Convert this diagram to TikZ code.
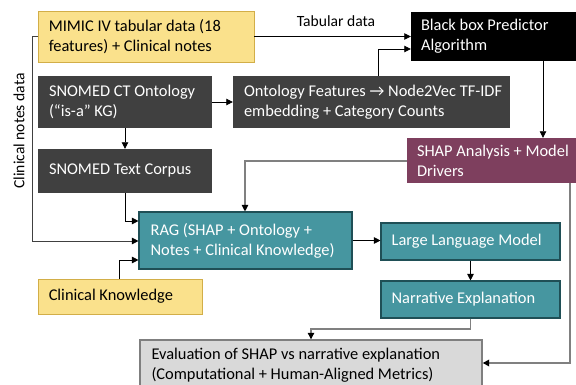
\documentclass[tikz,border=0pt]{standalone}
\usepackage{fontspec}
\setmainfont{Carlito}
\usetikzlibrary{arrows.meta,calc}
\definecolor{ylwf}{HTML}{FAE18C}
\definecolor{ylwb}{HTML}{D2AE48}
\definecolor{dgray}{HTML}{404040}
\definecolor{maroonf}{HTML}{7E3F5E}
\definecolor{tealf}{HTML}{4696A0}
\definecolor{tealb}{HTML}{1F4F56}
\definecolor{evalf}{HTML}{D9D9D9}
\definecolor{evalb}{HTML}{7F7F7F}
\definecolor{lineg}{HTML}{808080}
\begin{document}
\begin{tikzpicture}[x=1pt,y=-1pt,
  box/.style={rectangle, inner sep=0pt},
  ybox/.style={box, fill=ylwf, draw=ylwb, line width=0.9pt},
  dbox/.style={box, fill=dgray, draw=none},
  kbox/.style={box, fill=black, draw=none},
  mbox/.style={box, fill=maroonf, draw=none},
  tbox/.style={box, fill=tealf, draw=tealb, line width=1.1pt},
  gbox/.style={box, fill=evalf, draw=evalb, line width=1.4pt},
  txt/.style={anchor=west, inner sep=0pt, align=left,
    font=\fontsize{16.4}{20}\selectfont},
  wtxt/.style={txt, text=white},
  btxt/.style={txt, text=black},
  lbl/.style={inner sep=0pt, font=\fontsize{15.6}{18}\selectfont},
  tip/.style={-{Triangle[length=6.5pt,width=6.5pt,black]}},
  arr/.style={tip, draw=black, line width=0.8pt},
  garr/.style={tip, draw=lineg, line width=1.1pt}
]
\useasboundingbox (0,0) rectangle (576,385);
\clip (0,0) rectangle (576,385);

% boxes
\node[ybox, minimum width=216pt, minimum height=51pt] (mimic) at (146,36.5) {};
\node[kbox, minimum width=169pt, minimum height=49pt] (black) at (495.5,36.5) {};
\node[dbox, minimum width=174pt, minimum height=52pt] (snomed) at (125,102) {};
\node[dbox, minimum width=277pt, minimum height=52pt] (onto) at (371.5,102) {};
\node[mbox, minimum width=173pt, minimum height=45pt] (shap) at (493.5,160.5) {};
\node[dbox, minimum width=174pt, minimum height=44pt] (corpus) at (125,171) {};
\node[tbox, minimum width=213pt, minimum height=57pt] (rag) at (245.5,240.5) {};
\node[tbox, minimum width=179pt, minimum height=37pt] (llm) at (470.5,241.5) {};
\node[tbox, minimum width=179pt, minimum height=37pt] (narr) at (470.5,299.5) {};
\node[ybox, minimum width=164pt, minimum height=35pt] (ck) at (120,296.5) {};
\node[gbox, minimum width=342pt, minimum height=50pt] (eval) at (311,365) {};

% box texts
\node[btxt] (mimict) at ($(mimic.west)+(11,0)$) {MIMIC IV tabular data (18\\features) + Clinical notes};
\node[wtxt] (blackt) at ($(black.west)+(10,0)$) {Black box Predictor\\Algorithm};
\node[wtxt] (snomedt) at ($(snomed.west)+(11,0)$) {SNOMED CT Ontology\\(“is-a” KG)};
\node[wtxt] (ontot) at ($(onto.west)+(11,0)$) {Ontology Features → Node2Vec TF-IDF\\embedding + Category Counts};
\node[wtxt] (shapt) at ($(shap.west)+(10,0)$) {SHAP Analysis + Model\\Drivers};
\node[wtxt] (corpust) at ($(corpus.west)+(11,0)$) {SNOMED Text Corpus};
\node[wtxt] (ragt) at ($(rag.west)+(12,0)$) {RAG (SHAP + Ontology +\\Notes + Clinical Knowledge)};
\node[wtxt] (llmt) at ($(llm.west)+(11,0)$) {Large Language Model};
\node[wtxt] (narrt) at ($(narr.west)+(11,0)$) {Narrative Explanation};
\node[btxt] (ckt) at ($(ck.west)+(11,0)$) {Clinical Knowledge};
\node[btxt] (evalt) at ($(eval.west)+(12,0)$) {Evaluation of SHAP vs narrative explanation\\(Computational + Human-Aligned Metrics)};

% labels
\node[lbl] (tab) at (336,21) {Tabular data};
\node[lbl, rotate=90] (cnd) at (19,131) {Clinical notes data};

% helper coordinates
\coordinate (c1) at (378,49);
\coordinate (c2) at (543,0);
\coordinate (c3) at (245,161);
\coordinate (c4) at (570,363);
\coordinate (c5) at (125,0);
\coordinate (c6) at (125,221);
\coordinate (c7) at (32,241);
\coordinate (c8) at (119,260);
\coordinate (c9) at (311,329);

% connectors
\draw[arr] (mimic.east) -- (mimic.east -| black.west);
\draw[arr] (onto.north -| c1) |- (c1) -- (c1 -| black.west);
\draw[arr] (black.south -| c2) -- (shap.north -| c2);
\draw[garr] (shap.west |- c3) -| (rag.north -| c3);
\draw[garr, line width=1.8pt] (shap.south -| c4) |- (eval.east |- c4);
\draw[arr] (snomed.south -| c5) -- (corpus.north -| c5);
\draw[arr] (snomed.east) -- (onto.west);
\draw[arr] (corpus.south -| c6) |- (rag.west |- c6);
\draw[arr, draw=dgray] (mimic.west) -| (c7) -- (rag.west |- c7);
\draw[arr] (ck.north -| c8) |- (rag.west |- c8);
\draw[arr] (rag.east) -- (rag.east -| llm.west);
\draw[arr] (llm.south) -- (narr.north);
\draw[garr] (narr.south) |- (c9) -- (eval.north -| c9);
\end{tikzpicture}
\end{document}
